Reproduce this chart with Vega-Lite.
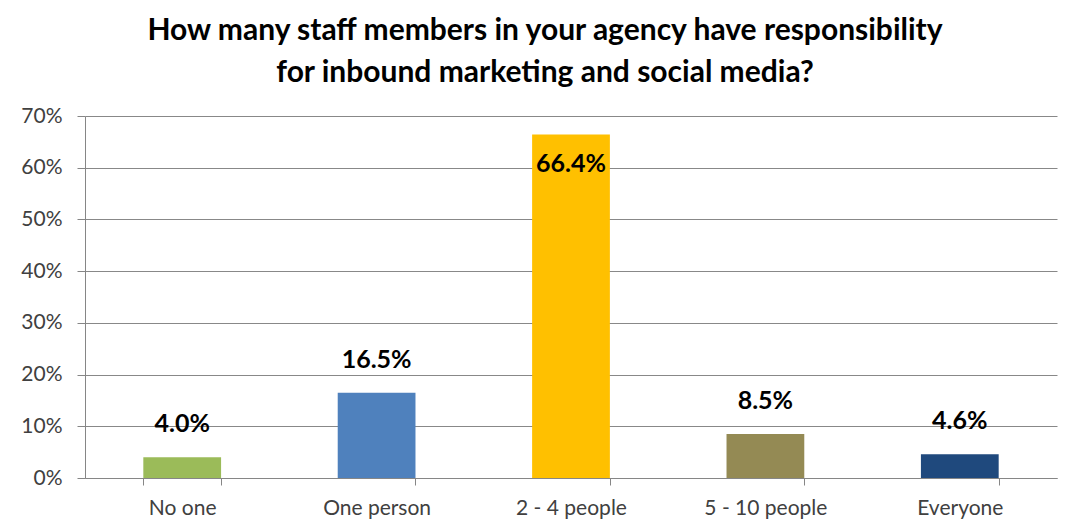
{
  "$schema": "https://vega.github.io/schema/vega-lite/v6.json",
  "autosize": {"type": "none"},
  "width": 972,
  "height": 362,
  "padding": {"left": 85, "top": 116, "right": 12, "bottom": 53},
  "background": "white",
  "config": {"view": {"stroke": null}, "font": "Lato"},
  "title": {
    "text": ["How many staff members in your agency have responsibility", "for inbound marketing and social media?"],
    "font": "Lato",
    "fontSize": 30,
    "fontWeight": "bold",
    "color": "#000000",
    "lineHeight": 42,
    "anchor": "middle",
    "dx": -26,
    "offset": 17
  },
  "data": {
    "values": [
      {"category": "No one", "value": 0.040, "label": "4.0%"},
      {"category": "One person", "value": 0.165, "label": "16.5%"},
      {"category": "2 - 4 people", "value": 0.664, "label": "66.4%"},
      {"category": "5 - 10 people", "value": 0.085, "label": "8.5%"},
      {"category": "Everyone", "value": 0.046, "label": "4.6%"}
    ]
  },
  "encoding": {
    "x": {
      "field": "category",
      "type": "nominal",
      "sort": null,
      "scale": {"paddingInner": 0.6, "paddingOuter": 0.3},
      "axis": {
        "title": null,
        "labelAngle": 0,
        "labelFont": "Lato",
        "labelFontSize": 21,
        "labelColor": "#404040",
        "labelPadding": 12,
        "domainColor": "#868686",
        "tickColor": "#868686",
        "tickSize": 7,
        "tickBand": "extent",
        "grid": false
      }
    },
    "y": {
      "field": "value",
      "type": "quantitative",
      "scale": {"domain": [0, 0.7], "nice": false},
      "axis": {
        "title": null,
        "format": ".0%",
        "values": [0, 0.1, 0.2, 0.3, 0.4, 0.5, 0.6, 0.7],
        "labelFont": "Lato",
        "labelFontSize": 21,
        "labelColor": "#404040",
        "labelPadding": 15,
        "domainColor": "#868686",
        "tickColor": "#868686",
        "tickSize": 8,
        "gridColor": "#888888",
        "gridWidth": 1
      }
    }
  },
  "layer": [
    {
      "mark": {"type": "bar"},
      "encoding": {
        "color": {
          "field": "category",
          "type": "nominal",
          "sort": null,
          "scale": {
            "domain": ["No one", "One person", "2 - 4 people", "5 - 10 people", "Everyone"],
            "range": ["#9BBB59", "#4F81BD", "#FFC000", "#948A54", "#1F497D"]
          },
          "legend": null
        }
      }
    },
    {
      "transform": [{"filter": "datum.value < 0.5"}],
      "mark": {"type": "text", "font": "Lato", "fontSize": 25, "fontWeight": "bold", "color": "#000000", "baseline": "bottom", "dy": -20},
      "encoding": {"text": {"field": "label"}}
    },
    {
      "transform": [{"filter": "datum.value >= 0.5"}],
      "mark": {"type": "text", "font": "Lato", "fontSize": 25, "fontWeight": "bold", "color": "#000000", "baseline": "top", "dy": 17},
      "encoding": {"text": {"field": "label"}}
    }
  ]
}
